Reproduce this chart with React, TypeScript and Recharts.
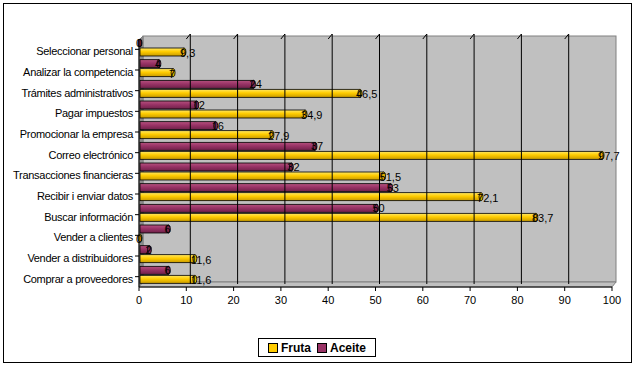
// Gráfico de barras horizontales (estilo Excel 3D cilindro) — Fruta vs Aceite
import {
  BarChart, Bar, XAxis, YAxis, LabelList, ReferenceArea, ReferenceLine,
} from 'recharts';

const categories = [
  'Seleccionar personal',
  'Analizar la competencia',
  'Trámites administrativos',
  'Pagar impuestos',
  'Promocionar la empresa',
  'Correo electrónico',
  'Transacciones financieras',
  'Recibir i enviar datos',
  'Buscar información',
  'Vender a clientes',
  'Vender a distribuidores',
  'Comprar a proveedores',
];

const fruta = [9.3, 7, 46.5, 34.9, 27.9, 97.7, 51.5, 72.1, 83.7, 0, 11.6, 11.6];
const aceite = [0, 4, 24, 12, 16, 37, 32, 53, 50, 6, 2, 6];

const xTicks = [0, 10, 20, 30, 40, 50, 60, 70, 80, 90, 100];
const gridTicks = [10, 20, 30, 40, 50, 60, 70, 80, 90];

const data = categories.map((name, i) => ({ name, fruta: fruta[i], aceite: aceite[i] }));

const FONT = '"Liberation Sans", Arial, sans-serif';
const DEPTH = 4;

const fmt = (v: any) => String(v).replace('.', ',');

// barra tipo cilindro con degradado y tapa
function Cylinder(props: any) {
  const { x, y, width, height, gradId, cap } = props;
  if (height == null) return null;
  const yy = y - 2;
  const w = Math.max(width, 0);
  return (
    <g>
      <rect x={x + 1} y={yy} width={w} height={height} fill={`url(#${gradId})`} stroke="#000" strokeWidth={0.8} />
      <ellipse cx={x + 1 + w} cy={yy + height / 2} rx={2} ry={height / 2} fill={cap} stroke="#000" strokeWidth={0.8} />
    </g>
  );
}

// paredes grises del fondo 3D
function Walls(props: any) {
  const { x, y, width, height } = props;
  const b = y + height;
  return (
    <g>
      <rect x={x + DEPTH} y={y - 3} width={width} height={height - 2} fill="#C0C0C0" stroke="#808080" strokeWidth={1} />
      <polygon
        points={`${x},${y + 1} ${x + DEPTH},${y - 3} ${x + DEPTH},${b - 5} ${x},${b}`}
        fill="#8C8C8C"
        stroke="#808080"
        strokeWidth={1}
      />
      <polygon
        points={`${x},${b} ${x + DEPTH},${b - 5} ${x + width + DEPTH},${b - 5} ${x + width},${b}`}
        fill="#C0C0C0"
        stroke="#808080"
        strokeWidth={1}
      />
    </g>
  );
}

function GridLine(props: any) {
  const { x1, y1, y2 } = props;
  return (
    <g>
      <line x1={x1 + DEPTH} y1={y1 - 3} x2={x1 + DEPTH} y2={y2 - 5} stroke="#000" strokeWidth={1} />
      <line x1={x1} y1={y2} x2={x1 + DEPTH} y2={y2 - 5} stroke="#000" strokeWidth={1} />
    </g>
  );
}

function CatTick(props: any) {
  const { x, y, payload } = props;
  return (
    <text x={x} y={y} dy={6} textAnchor="end" fill="#000" fontSize={11} fontFamily={FONT} letterSpacing={-0.3}>
      {payload.value}
    </text>
  );
}

export default function App() {
  return (
    <div style={{ position: 'absolute', left: 0, top: 0, width: 636, height: 366, background: '#fff', fontFamily: FONT }}>
      <div style={{ position: 'absolute', left: 3, top: 3, width: 627, height: 358, border: '1px solid #000' }} />
      <BarChart
        width={636}
        height={366}
        data={data}
        layout="vertical"
        margin={{ top: 39, right: 24, bottom: 59, left: 9 }}
        barSize={8}
        barGap={1}
        style={{ position: 'absolute', left: 0, top: 0 }}
      >
        <defs>
          <linearGradient id="gFruta" x1="0" y1="0" x2="0" y2="1">
            <stop offset="0%" stopColor="#FFE866" />
            <stop offset="45%" stopColor="#FFCC00" />
            <stop offset="100%" stopColor="#C89A00" />
          </linearGradient>
          <linearGradient id="gAceite" x1="0" y1="0" x2="0" y2="1">
            <stop offset="0%" stopColor="#B5527F" />
            <stop offset="45%" stopColor="#993366" />
            <stop offset="100%" stopColor="#6E2149" />
          </linearGradient>
        </defs>
        <ReferenceArea x1={0} x2={100} shape={<Walls />} ifOverflow="visible" />
        {gridTicks.map((t) => (
          <ReferenceLine key={t} x={t} ifOverflow="visible" shape={(p: any) => <GridLine {...p} />} />
        ))}
        <XAxis
          type="number"
          domain={[0, 100]}
          ticks={xTicks}
          interval={0}
          height={20}
          tick={{ fill: '#000', fontSize: 11, fontFamily: FONT, dy: 3 }}
          tickSize={4}
          axisLine={{ stroke: '#000' }}
          tickLine={{ stroke: '#000' }}
        />
        <YAxis
          type="category"
          dataKey="name"
          width={130}
          interval={0}
          tick={<CatTick />}
          tickSize={4}
          axisLine={{ stroke: '#000' }}
          tickLine={{ stroke: '#000' }}
        />
        <Bar dataKey="aceite" isAnimationActive={false} shape={(p: any) => <Cylinder {...p} gradId="gAceite" cap="#7A2850" />}>
          <LabelList dataKey="aceite" position="right" offset={-3} formatter={fmt} style={{ fill: '#000', fontSize: 11, fontFamily: FONT }} dy={-2} />
        </Bar>
        <Bar dataKey="fruta" isAnimationActive={false} shape={(p: any) => <Cylinder {...p} gradId="gFruta" cap="#E0B000" />}>
          <LabelList dataKey="fruta" position="right" offset={-3} formatter={fmt} style={{ fill: '#000', fontSize: 11, fontFamily: FONT }} dy={-1} />
        </Bar>
      </BarChart>
      <div
        style={{
          position: 'absolute', left: 258, top: 338, width: 118, height: 19,
          border: '1px solid #000', boxSizing: 'border-box', display: 'flex', alignItems: 'center',
          justifyContent: 'center', gap: 6, fontSize: 12, fontWeight: 'bold', background: '#fff',
        }}
      >
        <span style={{ display: 'flex', alignItems: 'center', gap: 3 }}>
          <span style={{ width: 8, height: 8, background: '#FFCC00', border: '1px solid #000', display: 'inline-block' }} />
          Fruta
        </span>
        <span style={{ display: 'flex', alignItems: 'center', gap: 3 }}>
          <span style={{ width: 8, height: 8, background: '#993366', border: '1px solid #000', display: 'inline-block' }} />
          Aceite
        </span>
      </div>
    </div>
  );
}
